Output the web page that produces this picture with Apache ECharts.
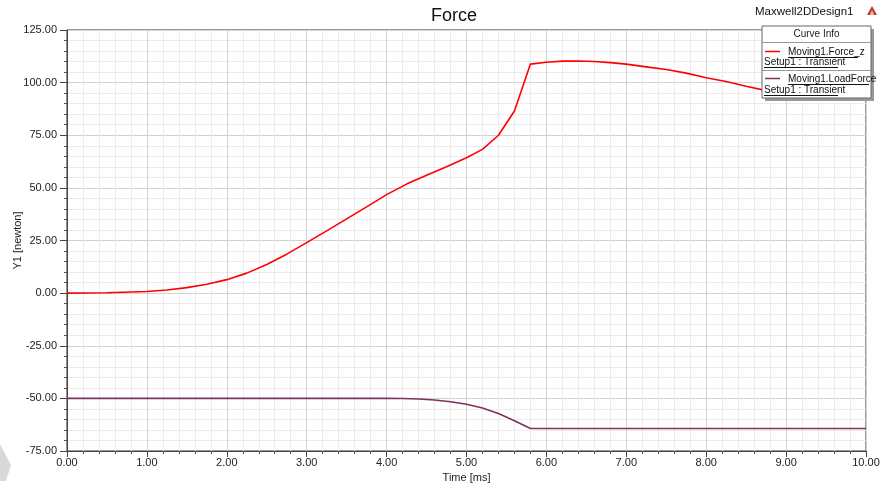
<!DOCTYPE html>
<html>
<head>
<meta charset="utf-8">
<script src="https://cdn.jsdelivr.net/npm/echarts@6/dist/echarts.min.js"></script>
<style>
html,body{margin:0;padding:0;background:#fff;}
#c{width:883px;height:487px;}
</style>
</head>
<body>
<div id="c"></div>
<script>
// Time [ms] and values for Moving1.Force_z
var forceT = [0, 0.5, 1.0, 1.25, 1.5, 1.75, 2.0, 2.25, 2.5, 2.75, 3.0, 3.25, 3.5, 3.75, 4.0, 4.25, 4.5, 4.75, 5.0, 5.2, 5.4, 5.6, 5.8, 6.0, 6.2, 6.4, 6.6, 6.8, 7.0, 7.25, 7.5, 7.75, 8.0, 8.25, 8.5, 8.75, 9.0, 9.5, 10.0];
var forceZ = [0, 0.2, 0.8, 1.5, 2.6, 4.2, 6.4, 9.5, 13.6, 18.5, 24.0, 29.6, 35.3, 41.0, 46.8, 51.8, 56.0, 60.0, 64.3, 68.3, 75.0, 86.5, 108.8, 109.7, 110.2, 110.3, 110.0, 109.5, 108.8, 107.5, 106.2, 104.5, 102.3, 100.5, 98.3, 96.2, 95.0, 94.0, 93.5];
// Time [ms] and values for Moving1.LoadForce
var loadT = [0, 4.0, 4.2, 4.4, 4.6, 4.8, 5.0, 5.2, 5.4, 5.6, 5.8, 10.0];
var loadF = [-50, -50, -50.05, -50.3, -50.8, -51.6, -52.8, -54.6, -57.2, -60.6, -64.3, -64.3];

var xTicks = {min: 0, max: 10, interval: 1};
var yTicks = {min: -75, max: 125, interval: 25};

function pairs(xs, ys){ var r=[]; for(var i=0;i<xs.length;i++) r.push([xs[i], ys[i]]); return r; }

var FONT = 'Liberation Sans, Arial, sans-serif';
var chart = echarts.init(document.getElementById('c'), null, {renderer:'canvas'});

var lgX = 762, lgY = 26, lgW = 109, lgH = 72;
var graphics = [
  // watermark fragment bottom-left
  {type:'polygon', shape:{points:[[0,444],[11,465],[6,481],[0,481]]}, style:{fill:'#d9d9d9'}, silent:true},
  {type:'text', left: 755, top: 6, style:{text:'Maxwell2DDesign1', font:'11.5px ' + FONT, fill:'#111'}},
  {type:'polygon', shape:{points:[[872,6],[877,15],[867,15]]}, style:{fill:'#c0392b'}},
  {type:'polygon', shape:{points:[[872,10],[874,15],[870,15]]}, style:{fill:'#f5b7b1'}},
  // legend shadow + box
  {type:'group', z:100, children:[
    {type:'rect', shape:{x:lgX+3, y:lgY+3, width:lgW, height:lgH}, style:{fill:'#9a9a9a'}, z:100},
    {type:'rect', shape:{x:lgX, y:lgY, width:lgW, height:lgH}, style:{fill:'#fff', stroke:'#666', lineWidth:1}, z:101},
    {type:'text', style:{x:lgX+lgW/2, y:lgY+8, text:'Curve Info', font:'10px ' + FONT, fill:'#222', align:'center', verticalAlign:'middle'}, z:102},
    {type:'line', shape:{x1:lgX, y1:lgY+16.5, x2:lgX+lgW, y2:lgY+16.5}, style:{stroke:'#999', lineWidth:1}, z:102},
    {type:'line', shape:{x1:765, y1:51.5, x2:780, y2:51.5}, style:{stroke:'#ff0000', lineWidth:1.5}, z:102},
    {type:'text', style:{x:788, y:52, text:'Moving1.Force_z', font:'10px ' + FONT, fill:'#111', verticalAlign:'middle'}, z:102},
    {type:'line', shape:{x1:788, y1:57.5, x2:858, y2:57.5}, style:{stroke:'#111', lineWidth:1}, z:102},
    {type:'text', style:{x:764, y:62.5, text:'Setup1 : Transient', font:'10px ' + FONT, fill:'#111', verticalAlign:'middle'}, z:102},
    {type:'line', shape:{x1:764, y1:67.5, x2:838, y2:67.5}, style:{stroke:'#111', lineWidth:1}, z:102},
    {type:'line', shape:{x1:lgX, y1:70.5, x2:lgX+lgW, y2:70.5}, style:{stroke:'#999', lineWidth:1}, z:102},
    {type:'line', shape:{x1:765, y1:78.5, x2:780, y2:78.5}, style:{stroke:'#80305e', lineWidth:1.5}, z:102},
    {type:'text', style:{x:788, y:79, text:'Moving1.LoadForce', font:'10px ' + FONT, fill:'#111', verticalAlign:'middle'}, z:102},
    {type:'line', shape:{x1:788, y1:84.5, x2:869, y2:84.5}, style:{stroke:'#111', lineWidth:1}, z:102},
    {type:'text', style:{x:764, y:90, text:'Setup1 : Transient', font:'10px ' + FONT, fill:'#111', verticalAlign:'middle'}, z:102},
    {type:'line', shape:{x1:764, y1:95.5, x2:838, y2:95.5}, style:{stroke:'#111', lineWidth:1}, z:102}
  ]}
];

var option = {
  backgroundColor:'#fff',
  animation:false,
  title:{text:'Force', left:426, top:2, textStyle:{fontFamily:FONT, fontSize:18, fontWeight:'normal', color:'#111'}},
  grid:{left:67, right:17, top:30, bottom:36, show:true, borderColor:'#333', borderWidth:1, backgroundColor:'#fff', containLabel:false, outerBoundsMode:'none'},
  xAxis:{
    type:'value', min:xTicks.min, max:xTicks.max, interval:xTicks.interval,
    name:'Time [ms]', nameLocation:'middle', nameGap:21, nameMoveOverlap:false,
    nameTextStyle:{fontFamily:FONT, fontSize:11, color:'#222'},
    axisLine:{show:true, onZero:false, lineStyle:{color:'#444', width:1}},
    axisTick:{show:true, length:6, lineStyle:{color:'#444'}},
    minorTick:{show:true, splitNumber:5, length:3, lineStyle:{color:'#555'}},
    axisLabel:{fontFamily:FONT, fontSize:11, color:'#222', margin:6, formatter:function(v){return v.toFixed(2);}},
    splitLine:{show:true, lineStyle:{color:'#d2d2d2', width:1}},
    minorSplitLine:{show:true, lineStyle:{color:'#ececec', width:1}}
  },
  yAxis:{
    type:'value', min:yTicks.min, max:yTicks.max, interval:yTicks.interval,
    name:'Y1 [newton]', nameLocation:'middle', nameGap:44, nameMoveOverlap:false,
    nameTextStyle:{fontFamily:FONT, fontSize:11, color:'#222'},
    axisLine:{show:true, onZero:false, lineStyle:{color:'#444', width:1}},
    axisTick:{show:true, length:7, lineStyle:{color:'#444'}},
    minorTick:{show:true, splitNumber:5, length:3, lineStyle:{color:'#555'}},
    axisLabel:{fontFamily:FONT, fontSize:11, color:'#222', margin:10, formatter:function(v){return v.toFixed(2);}},
    splitLine:{show:true, lineStyle:{color:'#d2d2d2', width:1}},
    minorSplitLine:{show:true, lineStyle:{color:'#ececec', width:1}}
  },
  series:[
    {name:'Moving1.Force_z', type:'line', data:pairs(forceT, forceZ), showSymbol:false, smooth:false,
     lineStyle:{color:'#ff0000', width:1.6}, itemStyle:{color:'#ff0000'}, z:3},
    {name:'Moving1.LoadForce', type:'line', data:pairs(loadT, loadF), showSymbol:false, smooth:false,
     lineStyle:{color:'#80305e', width:1.6}, itemStyle:{color:'#80305e'}, z:3}
  ],
  graphic: graphics
};
chart.setOption(option);
</script>
</body>
</html>
